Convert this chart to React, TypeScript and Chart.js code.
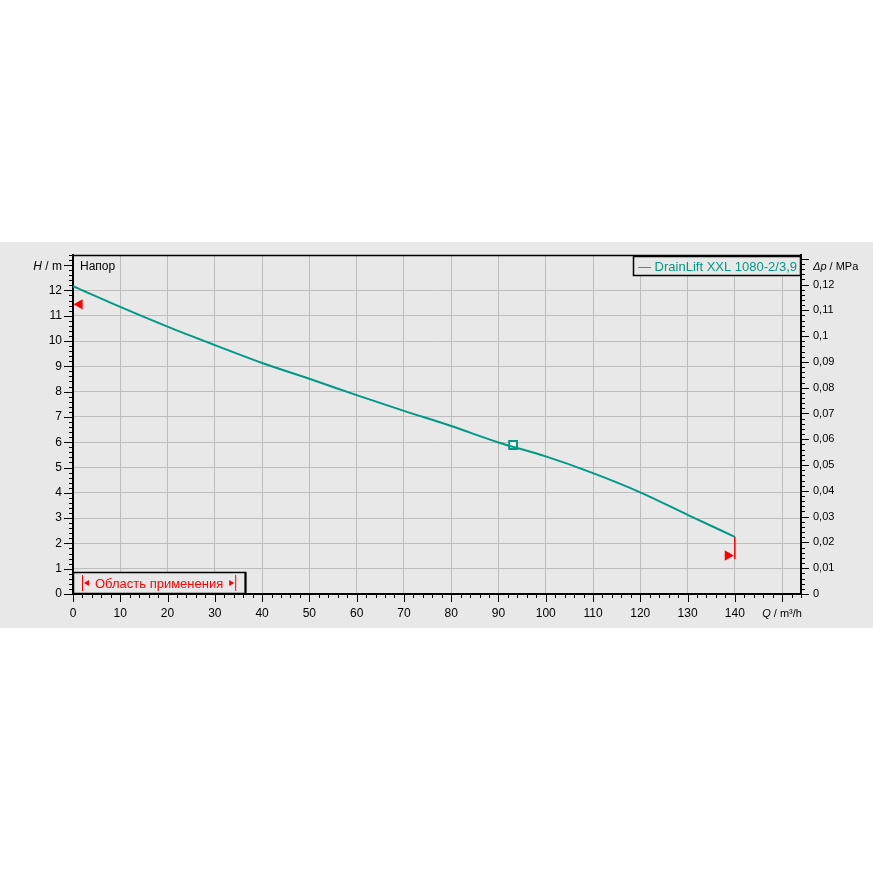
import React, { useEffect, useRef } from 'react';
import { Chart, registerables } from 'chart.js';

Chart.register(...registerables);

// ---- data ----
const Q_VALUES = [0, 10, 20, 30, 40, 50, 60, 70, 80, 90, 100, 110, 120, 130, 140];
const H_VALUES = [12.17, 11.35, 10.57, 9.84, 9.13, 8.51, 7.86, 7.24, 6.64, 5.99, 5.44, 4.78, 4.02, 3.13, 2.26];
const DUTY_Q = [93.1];
const DUTY_H = [5.89];
const LIMIT_LEFT_Q = [1.4];
const LIMIT_LEFT_H = [11.45];
const LIMIT_RIGHT_Q = [138.5];
const LIMIT_RIGHT_H = [1.52];
const LIMIT_LINE_Q = [140, 140];
const LIMIT_LINE_H = [2.26, 1.38];

const X_TICK_LABELS = ['0', '10', '20', '30', '40', '50', '60', '70', '80', '90', '100', '110', '120', '130', '140'];
const Y_TICK_LABELS = ['0', '1', '2', '3', '4', '5', '6', '7', '8', '9', '10', '11', '12'];
const P_TICK_LABELS = ['0', '0,01', '0,02', '0,03', '0,04', '0,05', '0,06', '0,07', '0,08', '0,09', '0,1', '0,11', '0,12'];

const X_MAX = 154;
const Y_MAX = 13.4;
const MPA_PER_M = 0.00981;

const SERIES_NAME = 'DrainLift XXL 1080-2/3,9';
const RANGE_LABEL = 'Область применения';
const Y_TITLE = 'Напор';

const TEAL = '#009a84';
const RED = '#ff0000';
const GRID = '#bdbdbd';
const BG = '#e8e8e8';
const FONT = "'Liberation Sans', Arial, sans-serif";

const overlayPlugin = {
  id: 'overlay',
  afterDraw(chart: any) {
    const ctx = chart.ctx as CanvasRenderingContext2D;
    const { left, right, top, bottom } = chart.chartArea;
    const xs = chart.scales.x;
    const ys = chart.scales.y;
    const yr = chart.scales.y2;
    const seg = (x1: number, y1: number, x2: number, y2: number) => {
      ctx.beginPath();
      ctx.moveTo(x1, y1);
      ctx.lineTo(x2, y2);
      ctx.stroke();
    };
    ctx.save();
    ctx.strokeStyle = '#000';
    // top border
    ctx.lineWidth = 1.5;
    seg(left, top + 0.5, right, top + 0.5);

    // ticks
    ctx.lineWidth = 1;
    for (let i = 0; i <= Math.floor(Y_MAX * 5 + 1e-6); i++) {
      const y = Math.round(ys.getPixelForValue(i / 5)) + 0.5;
      const L = i % 5 === 0 ? 9 : 4;
      seg(left - L, y, left, y);
    }
    const pMax = Y_MAX * MPA_PER_M;
    for (let i = 0; i <= Math.floor(pMax * 500 + 1e-6); i++) {
      const y = Math.round(yr.getPixelForValue(i / 500)) + 0.5;
      const L = i % 5 === 0 ? 8 : 4;
      seg(right, y, right + L, y);
    }
    for (let i = 0; i <= Math.floor(X_MAX / 2); i++) {
      const x = Math.round(xs.getPixelForValue(i * 2)) + 0.5;
      const L = i % 5 === 0 ? 8 : 4;
      seg(x, bottom, x, bottom + L);
    }

    // axis titles
    ctx.textBaseline = 'middle';
    ctx.fillStyle = '#000';
    const drawParts = (parts: [string, boolean][], x: number, y: number, align: 'left' | 'right' | 'center', size: number) => {
      let total = 0;
      const widths = parts.map(([t, it]) => {
        ctx.font = `${it ? 'italic ' : ''}${size}px ${FONT}`;
        const w = ctx.measureText(t).width;
        total += w;
        return w;
      });
      let cx = align === 'left' ? x : align === 'right' ? x - total : x - total / 2;
      ctx.textAlign = 'left';
      parts.forEach(([t, it], i) => {
        ctx.font = `${it ? 'italic ' : ''}${size}px ${FONT}`;
        ctx.fillText(t, cx, y);
        cx += widths[i];
      });
    };
    const yTitle = ys.getPixelForValue(13) + 2;
    drawParts([['H', true], [' / m', false]], left - 11, yTitle, 'right', 12);
    drawParts([[Y_TITLE, false]], left + 7, yTitle, 'left', 12);
    drawParts([['Δp', true], [' / MPa', false]], right + 12, yTitle, 'left', 11);
    drawParts([['Q', true], [' / m³/h', false]], xs.getPixelForValue(150), bottom + 19.5, 'center', 11);

    // series legend box
    const lgL = 633, lgT = top + 1, lgR = right, lgB = top + 21;
    ctx.fillStyle = BG;
    ctx.fillRect(lgL, lgT, lgR - lgL, lgB - lgT);
    ctx.strokeStyle = '#000';
    ctx.lineWidth = 1.5;
    ctx.strokeRect(lgL + 0.5, lgT + 0.5, lgR - lgL - 1, lgB - lgT - 1);
    ctx.fillStyle = TEAL;
    ctx.font = `13px ${FONT}`;
    ctx.textAlign = 'left';
    ctx.fillText('— ' + SERIES_NAME, lgL + 5, (lgT + lgB) / 2 + 1);

    // operating range box
    const rbL = left, rbT = bottom - 22, rbR = 246, rbB = bottom;
    ctx.fillStyle = BG;
    ctx.fillRect(rbL, rbT, rbR - rbL, rbB - rbT);
    ctx.strokeStyle = '#000';
    ctx.lineWidth = 1.5;
    ctx.strokeRect(rbL + 0.5, rbT + 0.5, rbR - rbL - 1, rbB - rbT - 1);
    ctx.lineWidth = 2;
    seg(rbR - 0.5, rbT, rbR - 0.5, rbB);
    const cy = (rbT + rbB) / 2;
    ctx.strokeStyle = RED;
    ctx.fillStyle = RED;
    ctx.lineWidth = 1;
    seg(rbL + 9.5, cy - 8, rbL + 9.5, cy + 8);
    ctx.beginPath();
    ctx.moveTo(rbL + 11, cy);
    ctx.lineTo(rbL + 16, cy - 3);
    ctx.lineTo(rbL + 16, cy + 3);
    ctx.closePath();
    ctx.fill();
    ctx.font = `13px ${FONT}`;
    ctx.textAlign = 'left';
    ctx.fillText(RANGE_LABEL, rbL + 22, cy + 1);
    const tw = ctx.measureText(RANGE_LABEL).width;
    const ax = rbL + 22 + tw + 6;
    ctx.beginPath();
    ctx.moveTo(ax + 5, cy);
    ctx.lineTo(ax, cy - 3);
    ctx.lineTo(ax, cy + 3);
    ctx.closePath();
    ctx.fill();
    seg(ax + 6.5, cy - 8, ax + 6.5, cy + 8);
    ctx.restore();
  },
};

const noPadV = (w: number) => (s: any) => {
  s.width = w;
  s.paddingTop = 0;
  s.paddingBottom = 0;
};

export default function App() {
  const ref = useRef<HTMLCanvasElement | null>(null);
  useEffect(() => {
    if (!ref.current) return;
    const curve = Q_VALUES.map((q, i) => ({ x: q, y: H_VALUES[i] }));
    const duty = DUTY_Q.map((q, i) => ({ x: q, y: DUTY_H[i] }));
    const limL = LIMIT_LEFT_Q.map((q, i) => ({ x: q, y: LIMIT_LEFT_H[i] }));
    const limR = LIMIT_RIGHT_Q.map((q, i) => ({ x: q, y: LIMIT_RIGHT_H[i] }));
    const limLine = LIMIT_LINE_Q.map((q, i) => ({ x: q, y: LIMIT_LINE_H[i] }));
    const chart = new Chart(ref.current, {
      type: 'scatter',
      data: {
        datasets: [
          {
            label: 'limit line',
            data: limLine,
            showLine: true,
            borderColor: RED,
            borderWidth: 1.5,
            pointRadius: 0,
            yAxisID: 'y',
          },
          {
            label: SERIES_NAME,
            data: curve,
            showLine: true,
            borderColor: TEAL,
            borderWidth: 2,
            pointRadius: 0,
            cubicInterpolationMode: 'monotone',
            yAxisID: 'y',
          },
          {
            label: 'duty',
            data: duty,
            pointStyle: 'rect',
            pointRadius: 5.5,
            borderColor: TEAL,
            borderWidth: 2,
            backgroundColor: '#ffffff',
            yAxisID: 'y',
          },
          {
            label: 'limit left',
            data: limL,
            pointStyle: 'triangle',
            pointRotation: 270,
            pointRadius: 6,
            borderWidth: 0,
            backgroundColor: RED,
            borderColor: RED,
            yAxisID: 'y',
          },
          {
            label: 'limit right',
            data: limR,
            pointStyle: 'triangle',
            pointRotation: 90,
            pointRadius: 6,
            borderWidth: 0,
            backgroundColor: RED,
            borderColor: RED,
            yAxisID: 'y',
          },
        ] as any,
      },
      options: {
        animation: false,
        responsive: false,
        devicePixelRatio: 1,
        events: [],
        layout: { autoPadding: false, padding: { top: 13, left: 0, right: 0, bottom: 0 } },
        plugins: { legend: { display: false }, title: { display: false }, tooltip: { enabled: false } },
        scales: {
          x: {
            type: 'linear',
            position: 'bottom',
            min: 0,
            max: X_MAX,
            afterFit: (s: any) => {
              s.height = 34;
              s.paddingLeft = 0;
              s.paddingRight = 0;
            },
            ticks: {
              stepSize: 10,
              includeBounds: false,
              autoSkip: false,
              maxRotation: 0,
              padding: 12,
              color: '#000',
              font: { family: FONT, size: 12 },
              callback: (_v: any, i: number) => X_TICK_LABELS[i] ?? '',
            },
            grid: {
              drawTicks: false,
              color: (c: any) => (c.tick && c.tick.value === 0 ? 'rgba(0,0,0,0)' : GRID),
              lineWidth: 1,
            },
            border: { display: true, color: '#000', width: 2 },
          },
          y: {
            type: 'linear',
            position: 'left',
            min: 0,
            max: Y_MAX,
            afterFit: noPadV(73),
            ticks: {
              stepSize: 1,
              includeBounds: false,
              autoSkip: false,
              padding: 11,
              color: '#000',
              font: { family: FONT, size: 12 },
              callback: (_v: any, i: number) => Y_TICK_LABELS[i] ?? '',
            },
            grid: {
              drawTicks: false,
              color: (c: any) =>
                c.tick && (c.tick.value === 0 || c.tick.value >= 13) ? 'rgba(0,0,0,0)' : GRID,
              lineWidth: 1,
            },
            border: { display: true, color: '#000', width: 2 },
          },
          y2: {
            type: 'linear',
            position: 'right',
            min: 0,
            max: Y_MAX * MPA_PER_M,
            afterFit: noPadV(72),
            ticks: {
              stepSize: 0.01,
              includeBounds: false,
              autoSkip: false,
              padding: 12,
              color: '#000',
              font: { family: FONT, size: 11 },
              callback: (_v: any, i: number) => P_TICK_LABELS[i] ?? '',
            },
            grid: { display: false, drawTicks: false },
            border: { display: true, color: '#000', width: 2 },
          },
        },
      } as any,
      plugins: [overlayPlugin],
    });
    return () => chart.destroy();
  }, []);

  return (
    <div style={{ position: 'absolute', left: 0, top: 0, width: 873, height: 873, background: '#ffffff' }}>
      <div style={{ position: 'absolute', left: 0, top: 242, width: 873, height: 386, background: BG }}>
        <canvas ref={ref} width={873} height={386} style={{ display: 'block', width: 873, height: 386 }} />
      </div>
    </div>
  );
}
